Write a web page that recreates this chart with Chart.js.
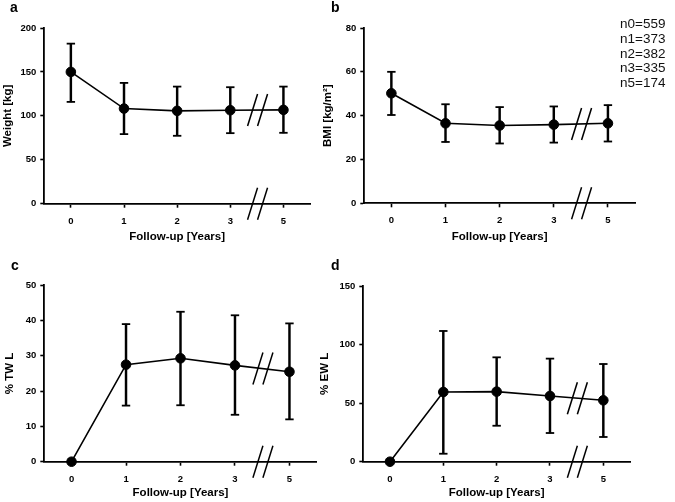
<!DOCTYPE html>
<html>
<head>
<meta charset="utf-8">
<script src="https://cdn.jsdelivr.net/npm/chart.js@4"></script>
<style>
  body { margin: 0; background: #fff; }
  #wrap { position: relative; width: 675px; height: 502px; font-family: "Liberation Sans", Arial, sans-serif; color: #000; }
  canvas { position: absolute; }
  .tag { position: absolute; font-weight: bold; font-size: 14px; line-height: 14px; }
  #ns { position: absolute; left: 620px; top: 17px; font-size: 13.5px; line-height: 14.8px; color: #111; }
</style>
</head>
<body>
<div id="wrap">
  <canvas id="ca" width="337" height="251" style="left:0;top:0"></canvas>
  <canvas id="cb" width="357" height="251" style="left:318px;top:0"></canvas>
  <canvas id="cc" width="337" height="251" style="left:0;top:251px"></canvas>
  <canvas id="cd" width="357" height="251" style="left:318px;top:251px"></canvas>
  <div class="tag" style="left:10px;top:0">a</div>
  <div class="tag" style="left:331px;top:0">b</div>
  <div class="tag" style="left:11px;top:258px">c</div>
  <div class="tag" style="left:331px;top:258px">d</div>
  <div id="ns"></div>
</div>
<script>
  // follow-up years (year 4 is skipped, hence the axis break)
  const years = ['0', '1', '2', '3', '5'];

  const weightMean = [150, 108.3, 105.7, 106.4, 106.8];
  const weightLow = [115.9, 79.2, 77.3, 80.3, 80.7];
  const weightHigh = [182.2, 137.5, 133.3, 132.6, 133.3];

  const bmiMean = [50.2, 36.5, 35.5, 35.9, 36.5];
  const bmiLow = [40.3, 28.0, 27.3, 27.7, 28.2];
  const bmiHigh = [60.0, 45.2, 43.9, 44.2, 44.8];

  const twlMean = [0, 27.5, 29.3, 27.3, 25.5];
  const twlLow = [null, 15.9, 16.0, 13.3, 12.0];
  const twlHigh = [null, 39.0, 42.5, 41.5, 39.2];

  const ewlMean = [0, 59.5, 59.8, 56.1, 52.4];
  const ewlLow = [null, 6.8, 30.7, 24.5, 21.1];
  const ewlHigh = [null, 111.6, 89.1, 88.0, 83.4];

  const nLabels = ['n0=559', 'n1=373', 'n2=382', 'n3=335', 'n5=174'];

  document.getElementById('ns').innerHTML = nLabels.join('<br>');

  Chart.defaults.font.family = '"Liberation Sans", Arial, sans-serif';
  Chart.defaults.color = '#000';

  // the "//" marks between year 3 and 5, on the line and on the x axis
  const breakMarks = {
    id: 'breakMarks',
    afterDatasetsDraw(chart) {
      const x = chart.scales.x, y = chart.scales.y, ctx = chart.ctx;
      const cx = (x.getPixelForValue(3) + x.getPixelForValue(4)) / 2 + 0.7;
      const mean = chart.data.datasets[0].data;
      const rows = [chart.chartArea.bottom, (y.getPixelForValue(mean[3]) + y.getPixelForValue(mean[4])) / 2];
      ctx.save();
      ctx.strokeStyle = '#000';
      ctx.lineWidth = 1.5;
      rows.forEach(cy => {
        [-5, 5].forEach(d => {
          ctx.beginPath();
          ctx.moveTo(cx + d - 5, cy + 16);
          ctx.lineTo(cx + d + 5, cy - 16);
          ctx.stroke();
        });
      });
      ctx.restore();
    }
  };

  function axisBits(fontSize) {
    return {
      grid: { drawOnChartArea: false, tickLength: 4, tickWidth: 1.6, tickColor: '#000' },
      border: { color: '#000', width: 1.8 },
      ticks: { color: '#000', font: { size: fontSize, weight: 'bold' } }
    };
  }

  function panel(id, box, mean, low, high, yMax, yStep, yTitle) {
    const xa = axisBits(9.5), ya = axisBits(9.5);
    new Chart(document.getElementById(id), {
      type: 'bar',
      data: {
        labels: years,
        datasets: [
          {
            type: 'line', data: mean, borderColor: '#000', borderWidth: 1.6,
            pointRadius: 4.8, pointBackgroundColor: '#000', pointBorderColor: '#000',
            pointBorderWidth: 1, clip: false, order: 0
          },
          {
            type: 'bar', data: low.map((v, i) => v == null ? null : [v, high[i]]),
            backgroundColor: '#000', barThickness: 1.8, order: 2
          },
          {
            type: 'line', data: high, showLine: false, pointStyle: 'line', pointRadius: 4.2,
            pointBorderWidth: 1.8, pointBorderColor: '#000', clip: false, order: 1
          },
          {
            type: 'line', data: low, showLine: false, pointStyle: 'line', pointRadius: 4.2,
            pointBorderWidth: 1.8, pointBorderColor: '#000', clip: false, order: 1
          }
        ]
      },
      options: {
        responsive: false,
        animation: false,
        layout: { padding: box.pad },
        plugins: { legend: { display: false }, tooltip: { enabled: false } },
        scales: {
          x: {
            offset: true,
            grid: Object.assign(xa.grid, { offset: false }),
            border: xa.border,
            ticks: Object.assign(xa.ticks, { padding: 7.5, maxRotation: 0 }),
            title: {
              display: true, text: 'Follow-up [Years]', color: '#000',
              font: { size: 11.5, weight: 'bold' }, padding: { top: 0, bottom: box.xt }
            },
            afterFit: s => { s.height = box.xh; }
          },
          y: {
            min: 0, max: yMax,
            grid: ya.grid,
            border: ya.border,
            ticks: Object.assign(ya.ticks, { stepSize: yStep, padding: 4 }),
            title: {
              display: true, text: yTitle, color: '#000',
              font: { size: 11.5, weight: 'bold' }, padding: { top: box.yt, bottom: 0 }
            },
            afterFit: s => { s.width = box.yw; }
          }
        }
      },
      plugins: [breakMarks]
    });
  }

  panel('ca', { pad: { left: 0, top: 28, right: 27, bottom: 0 }, yw: 44.3, xh: 47.3, xt: 7.4, yt: 1 },
    weightMean, weightLow, weightHigh, 200, 50, 'Weight [kg]');
  panel('cb', { pad: { left: 0, top: 28, right: 40, bottom: 0 }, yw: 46.3, xh: 47.7, xt: 7.4, yt: 3 },
    bmiMean, bmiLow, bmiHigh, 80, 20, 'BMI [kg/m²]');
  panel('cc', { pad: { left: 0, top: 34.3, right: 20.3, bottom: 0 }, yw: 44.3, xh: 40.3, xt: 2.1, yt: 3 },
    twlMean, twlLow, twlHigh, 50, 10, '% TW L');
  panel('cd', { pad: { left: 0, top: 35, right: 45, bottom: 0 }, yw: 45.3, xh: 40.3, xt: 2.1, yt: 0 },
    ewlMean, ewlLow, ewlHigh, 150, 50, '% EW L');
</script>
</body>
</html>
